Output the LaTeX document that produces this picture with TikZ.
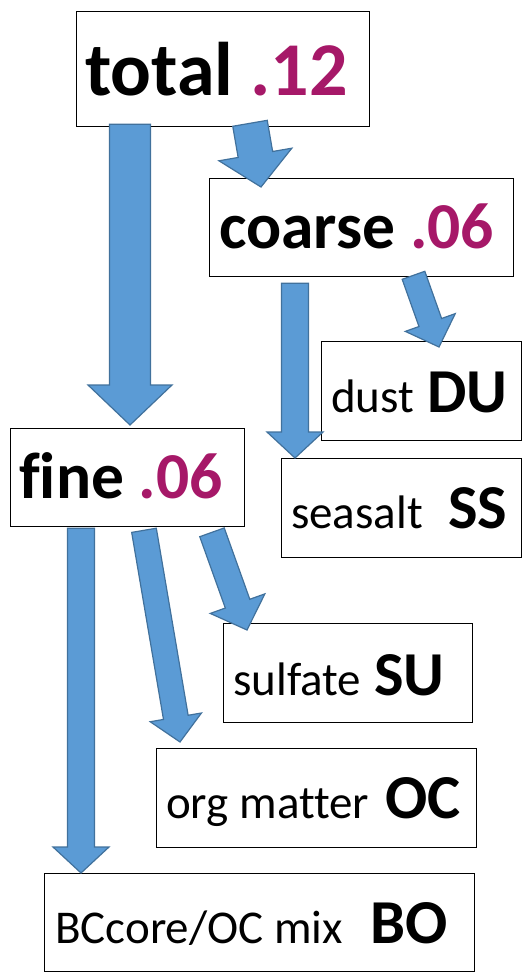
\documentclass[tikz,border=0pt]{standalone}
\usepackage{fontspec}
\setmainfont{Carlito}[Ligatures=NoCommon]
\usetikzlibrary{calc}
\definecolor{arrowfill}{RGB}{91,155,213}
\definecolor{arrowline}{RGB}{65,113,156}
\definecolor{numcol}{RGB}{166,24,104}
\tikzset{
  box/.style={draw=black, line width=1.3pt, fill=white, inner sep=0pt, anchor=north west},
  lbl/.style={anchor=base west, inner sep=0pt, font=\fontsize{47}{50}\selectfont},
  code/.style={anchor=base west, inner sep=0pt, font=\fontsize{62.5}{66}\selectfont\bfseries},
  bigtxt/.style={anchor=base west, inner sep=0pt, font=\fontsize{#1}{#1}\selectfont\bfseries},
  blockarr/.style={fill=arrowfill, draw=arrowline, line width=1.2pt, line join=miter},
}
% #1 tail, #2 tip, #3 half shaft width, #4 half head width, #5 head length
\newcommand\blockarrow[5]{%
  \coordinate (bq) at ($(#2)!#5!(#1)$);
  \draw[blockarr] ($(#1)!#3!90:(#2)$) -- ($(bq)!#3!90:(#2)$) -- ($(bq)!#4!90:(#2)$)
    -- (#2) -- ($(bq)!#4!-90:(#2)$) -- ($(bq)!#3!-90:(#2)$) -- ($(#1)!#3!-90:(#2)$) -- cycle;
}
\begin{document}
\begin{tikzpicture}[x=1pt,y=-1pt]
\useasboundingbox (0,0) rectangle (522,972);
% boxes
\node[box, minimum width=293pt, minimum height=115pt] (total) at (76,11) {};
\node[box, minimum width=304pt, minimum height=98pt] (coarse) at (209,178) {};
\node[box, minimum width=234pt, minimum height=98pt] (fine) at (10,428) {};
\node[box, minimum width=200pt, minimum height=99pt] (dust) at (321,341) {};
\node[box, minimum width=240pt, minimum height=99pt] (seasalt) at (281,458) {};
\node[box, minimum width=249pt, minimum height=99pt] (sulfate) at (223,623) {};
\node[box, minimum width=320pt, minimum height=99pt] (orgm) at (156,748) {};
\node[box, minimum width=430pt, minimum height=98pt] (bcoc) at (44,873) {};
% texts
\node[bigtxt=76] (totalt) at (85,95) {total \textcolor{numcol}{.12}};
\node[bigtxt=65.5] (coarset) at (219,248) {coarse \textcolor{numcol}{.06}};
\node[bigtxt=65.5] (finet) at (19,498) {fine \textcolor{numcol}{.06}};
\node[lbl] (dustt) at (331,412) {dust};
\node[code] (dustc) at (427,412) {DU};
\node[lbl] (seasaltt) at (291,528) {seasalt};
\node[code] (seasaltc) at (448,528) {SS};
\node[lbl] (sulfatet) at (233,695) {sulfate};
\node[code] (sulfatec) at (374,695) {SU};
\node[lbl] (orgmt) at (166,818) {org matter};
\node[code] (orgmc) at (385,818) {OC};
\node[lbl] (bcoct) at (55,943) {BCcore/OC mix};
\node[code] (bcocc) at (370,943) {BO};
% arrow end points
\coordinate (a1) at ($(total.south west)+(54,-3)$);
\coordinate (b1) at ($(fine.north west)+(120,-3)$);
\coordinate (a2) at ($(total.south west)+(174,-4)$);
\coordinate (b2) at ($(coarse.north west)+(52,9)$);
\coordinate (a3) at ($(coarse.south west)+(86,6)$);
\coordinate (b3) at ($(seasalt.north west)+(14,0)$);
\coordinate (a4) at ($(coarse.south west)+(204.5,-2)$);
\coordinate (b4) at ($(dust.north west)+(118,6)$);
\coordinate (a5) at ($(fine.south west)+(71,1)$);
\coordinate (b5) at ($(bcoc.north west)+(37,0)$);
\coordinate (a6) at ($(fine.south west)+(134,3)$);
\coordinate (b6) at ($(orgm.north west)+(24,-6)$);
\coordinate (a7) at ($(fine.south west)+(202,5)$);
\coordinate (b7) at ($(sulfate.north west)+(24,7)$);
% arrows
\blockarrow{a1}{b1}{20.5pt}{42pt}{40pt}
\blockarrow{a2}{b2}{17.5pt}{37pt}{33pt}
\blockarrow{a3}{b3}{13.5pt}{28pt}{26pt}
\blockarrow{a4}{b4}{12pt}{26.5pt}{26pt}
\blockarrow{a5}{b5}{13.5pt}{28pt}{26pt}
\blockarrow{a6}{b6}{12.5pt}{26pt}{25pt}
\blockarrow{a7}{b7}{13pt}{29pt}{28pt}
\end{tikzpicture}
\end{document}
